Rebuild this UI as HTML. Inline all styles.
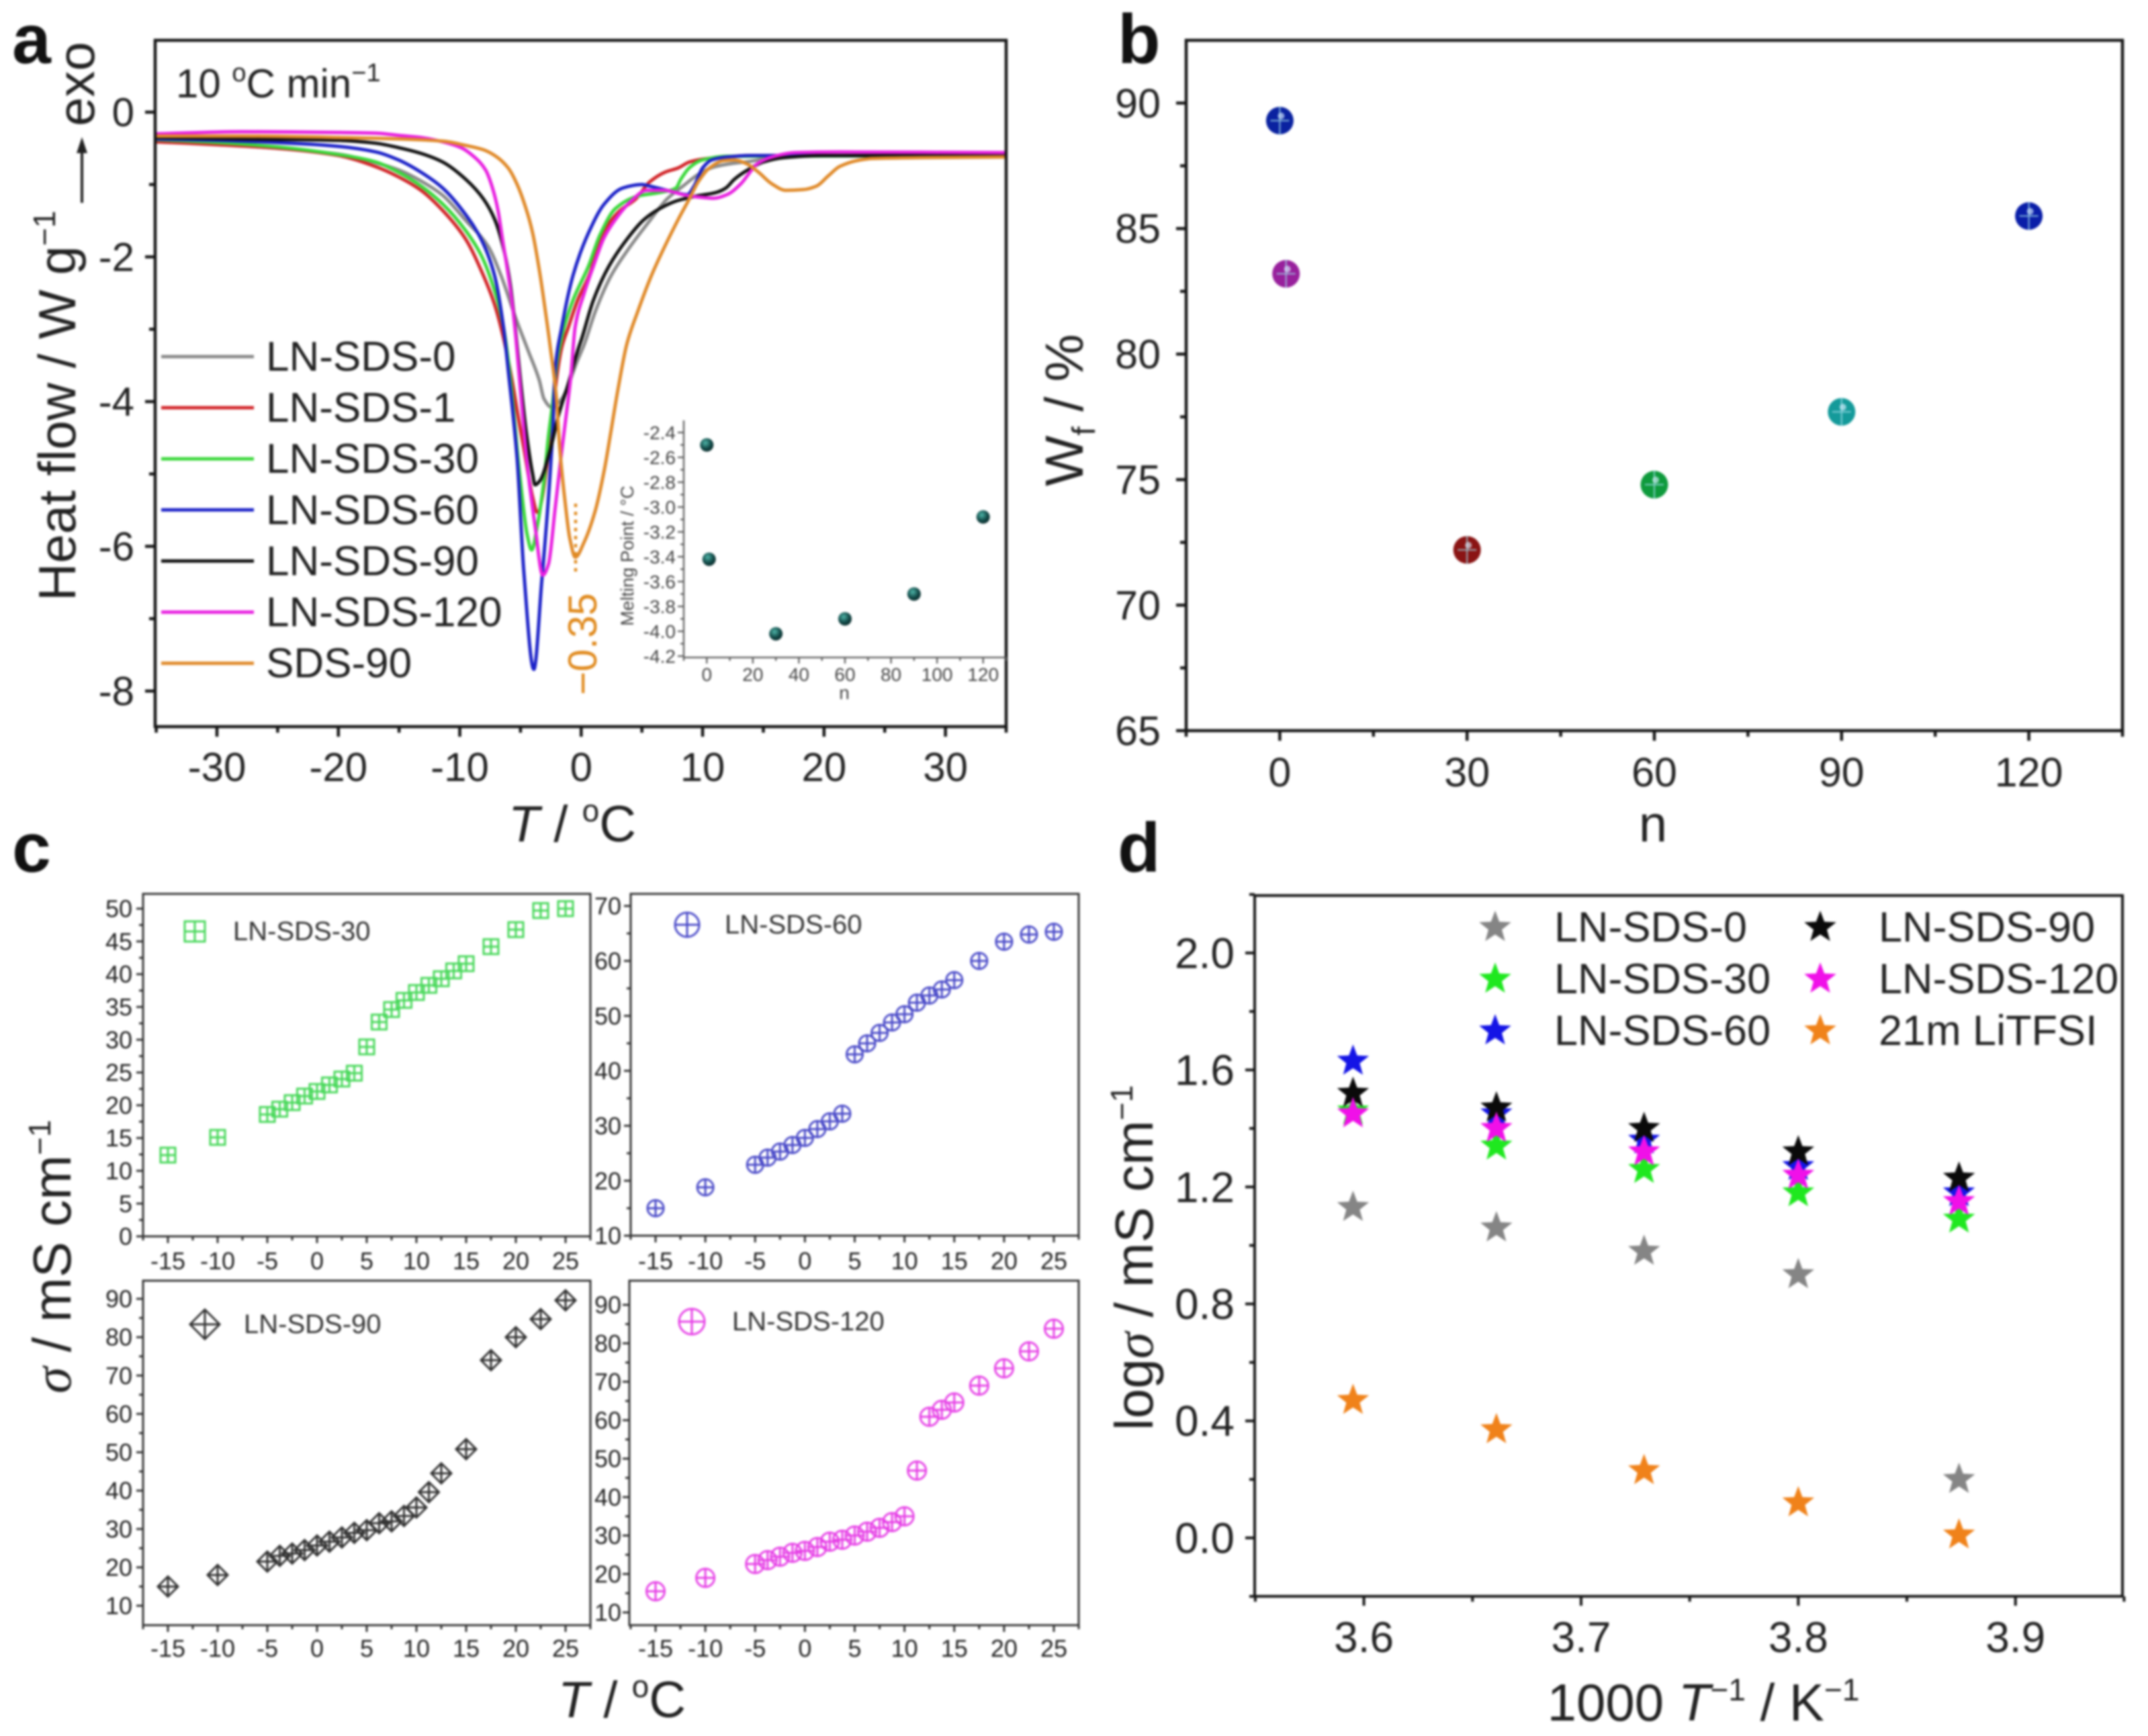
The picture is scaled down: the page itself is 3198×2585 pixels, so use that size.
<!DOCTYPE html>
<html lang="en">
<head>
<meta charset="utf-8">
<title>LN-SDS thermal and conductivity figure</title>
<style>
html,body{margin:0;padding:0;background:#fff;}
#figure{display:block;width:3198px;height:2585px;filter:blur(1.5px);font-family:"Liberation Sans",sans-serif;}
text{font-family:"Liberation Sans",sans-serif;fill:#222;}
</style>
</head>
<body>
<svg id="figure" xmlns="http://www.w3.org/2000/svg" width="3198" height="2585" viewBox="0 0 3198 2585">
<defs>
<radialGradient id="sphere-inset" cx="0.4" cy="0.35" r="0.7"><stop offset="0" stop-color="#4fb5a8"/><stop offset="0.6" stop-color="#134a48"/><stop offset="1" stop-color="#0c2b2b"/></radialGradient>
</defs>
<rect x="0" y="0" width="3198" height="2585" fill="#fff"/>

<text x="18" y="94" font-size="104" font-weight="bold" style="fill:#111">a</text>
<text x="1664" y="94" font-size="104" font-weight="bold" style="fill:#111">b</text>
<text x="18" y="1298" font-size="104" font-weight="bold" style="fill:#111">c</text>
<text x="1664" y="1298" font-size="104" font-weight="bold" style="fill:#111">d</text>

<g id="panel-a"></g>
<g id="panel-a-inset"></g>
<g id="panel-b"></g>
<g id="panel-c1"></g>
<g id="panel-c2"></g>
<g id="panel-c3"></g>
<g id="panel-c4"></g>
<g id="panel-d"></g>

<text x="262" y="145" font-size="60">10 <tspan font-size="38" dy="-24">o</tspan><tspan dy="24">C min</tspan><tspan font-size="38" dy="-24">−1</tspan></text>
<text transform="translate(112,895) rotate(-90)" font-size="78">Heat flow / W g<tspan font-size="46" dy="-30">−1</tspan></text>
<text transform="translate(140,188) rotate(-90)" font-size="78">exo</text>
<line x1="122" y1="302" x2="122" y2="222" stroke="#222" stroke-width="4"/>
<polygon points="122,204 114,228 130,228" fill="#222"/>
<text x="852" y="1253" font-size="76" text-anchor="middle"><tspan font-style="italic">T</tspan> / <tspan font-size="46" dy="-30">o</tspan><tspan dy="30">C</tspan></text>
<text transform="translate(888,1035) rotate(-90)" font-size="60" style="fill:#e08a1e">−0.35</text>
<line x1="857" y1="750" x2="857" y2="853" stroke="#e08a1e" stroke-width="4.5" stroke-dasharray="5 7"/>

<text transform="translate(1612,724) rotate(-90)" font-size="80">W<tspan font-size="48" dy="18">f</tspan><tspan dy="-18"> / %</tspan></text>
<text x="2461" y="1253" font-size="76" text-anchor="middle">n</text>

<text transform="translate(105,2075) rotate(-90)" font-size="80"><tspan font-style="italic" font-family="Liberation Serif">σ</tspan> / mS cm<tspan font-size="46" dy="-30">−1</tspan></text>
<text x="926" y="2557" font-size="76" text-anchor="middle"><tspan font-style="italic">T</tspan> / <tspan font-size="46" dy="-30">o</tspan><tspan dy="30">C</tspan></text>

<text transform="translate(1716,2130) rotate(-90)" font-size="80">log<tspan font-style="italic" font-family="Liberation Serif">σ</tspan> / mS cm<tspan font-size="46" dy="-30">−1</tspan></text>
<text x="2536" y="2562" font-size="78" text-anchor="middle">1000 <tspan font-style="italic">T</tspan><tspan font-size="46" dy="-30">−1</tspan><tspan dy="30"> / K</tspan><tspan font-size="46" dy="-30">−1</tspan></text>
</svg>

<script>
// ---------- Panel a: heat-flow curves ----------
const aGrayT = [-35,-30,-25,-20,-16.9,-15,-13.2,-11.4,-9.5,-7.68,-6.6,-5.47,-4.36,-3.44,-3.07,-2.42,-1.6,-0.3,0.25,1.17,2.46,3.94,5.6,7.07,8.4,9.65,10.9,12.4,13.9,15,20,35];
const aGrayV = [-0.41,-0.44,-0.5,-0.58,-0.7,-0.8,-0.95,-1.15,-1.5,-1.85,-2.26,-2.81,-3.3,-3.71,-3.96,-4.08,-3.96,-3.43,-3.21,-2.75,-2.26,-1.88,-1.51,-1.2,-1.02,-0.86,-0.76,-0.71,-0.68,-0.65,-0.6,-0.6];
const aRedT = [-35,-30,-25,-20,-16.9,-15.06,-13.2,-11.4,-9.5,-8.05,-7.13,-6.4,-5.7,-5.1,-4.73,-4,-3.62,-2.33,-2.05,-1.6,-1.05,-0.3,0.8,1.17,2.28,3.2,4.5,5.6,6.9,8,8.9,10,11.1,14,35];
const aRedV = [-0.41,-0.45,-0.5,-0.6,-0.755,-0.894,-1.08,-1.36,-1.76,-2.26,-2.66,-3.12,-3.7,-4.3,-4.64,-5.32,-5.53,-4.17,-3.71,-3.25,-2.97,-2.6,-2.19,-1.95,-1.54,-1.36,-1.2,-0.97,-0.83,-0.77,-0.69,-0.65,-0.63,-0.6,-0.6];
const aGreenT = [-35,-30,-25,-20.2,-16.9,-15.06,-13.2,-11.4,-9.5,-8.23,-7.13,-6.4,-6,-5,-4.45,-4.08,-3.62,-3.07,-2.7,-2.42,-1.97,-1.4,-0.68,0.6,1.54,2.83,4.67,6.5,7.8,8.2,8.9,10,12,35];
const aGreenV = [-0.38,-0.42,-0.48,-0.58,-0.69,-0.83,-1.02,-1.27,-1.64,-1.98,-2.47,-2.97,-3.43,-5.1,-5.84,-6.05,-5.72,-5.1,-4.48,-4.11,-3.43,-2.97,-2.6,-2.13,-1.7,-1.33,-1.16,-1.11,-1.05,-0.93,-0.77,-0.66,-0.61,-0.6];
const aBlueT = [-35,-30,-25,-20.2,-16.9,-15.06,-13.2,-11.4,-9.5,-8.23,-7.13,-6.4,-6,-5.28,-4.73,-3.9,-3.25,-2.6,-2.33,-2.15,-1.6,-0.68,0.6,1.9,3.4,5,5.6,7.07,8.73,9.3,10,10.76,12,13.9,35];
const aBlueV = [-0.37,-0.39,-0.42,-0.47,-0.55,-0.66,-0.83,-1.05,-1.42,-1.76,-2.26,-2.97,-3.58,-4.79,-6.34,-7.7,-6.49,-5.1,-4.33,-3.58,-2.97,-2.26,-1.67,-1.27,-1.05,-1,-1.02,-1.08,-1.14,-1.02,-0.77,-0.66,-0.62,-0.6,-0.6];
const aBlackT = [-35,-28,-20,-16.9,-15.06,-13.2,-11.4,-9.5,-8.05,-7.13,-6.4,-5.84,-5.38,-5,-4.54,-4,-3.8,-3.43,-2.51,-1.87,-1.04,-0.3,0.06,1,2.28,3.75,5.2,6.5,7.8,9.46,11.1,11.9,12.6,13.7,15,16.65,20,35];
const aBlackV = [-0.35,-0.37,-0.39,-0.43,-0.49,-0.57,-0.69,-0.93,-1.2,-1.48,-1.88,-2.38,-3.06,-3.7,-4.4,-5,-5.15,-5.1,-4.64,-4.19,-3.74,-3.3,-3.12,-2.6,-2.13,-1.76,-1.48,-1.33,-1.23,-1.16,-1.11,-1.05,-0.93,-0.8,-0.69,-0.63,-0.6,-0.6];
const aMagentaT = [-35,-28,-20,-16.9,-15.06,-13.2,-11.4,-9.9,-8.8,-7.87,-7.3,-6.85,-6.48,-6,-5.65,-5.38,-5,-4.54,-3.8,-3.16,-2.7,-2.14,-1.68,-1.22,-0.85,-0.5,0.25,1,1.9,2.83,4.1,5.4,6.9,8.36,9.46,10.9,12,13.15,13.9,14.45,15.7,17.6,21.3,35];
const aMagentaV = [-0.3,-0.27,-0.28,-0.29,-0.32,-0.35,-0.41,-0.49,-0.62,-0.8,-1.05,-1.36,-1.76,-2.26,-2.69,-3.12,-3.85,-4.72,-5.72,-6.4,-6.25,-5.47,-4.79,-4.17,-3.65,-2.97,-2.5,-2.13,-1.73,-1.48,-1.23,-1.08,-1.08,-1.14,-1.17,-1.19,-1.14,-0.99,-0.83,-0.72,-0.62,-0.56,-0.55,-0.56];
const aOrangeT = [-35,-28,-20,-11.4,-9.5,-8.05,-6.94,-6.02,-5.3,-4.55,-4,-3.44,-2.9,-2.52,-2.05,-1.77,-1.31,-0.95,-0.48,0.25,1.17,1.9,2.47,3,3.75,4.67,5.78,6.9,8,8.9,9.65,10.57,11.7,12.6,13.7,14.6,15.7,16.85,18.3,19.4,20.35,21.3,23,24,35];
const aOrangeV = [-0.33,-0.33,-0.35,-0.4,-0.46,-0.52,-0.62,-0.77,-0.99,-1.33,-1.67,-2.19,-2.81,-3.28,-3.93,-4.64,-5.41,-5.88,-6.15,-5.94,-5.5,-4.95,-4.39,-3.86,-3.21,-2.75,-2.26,-1.85,-1.48,-1.2,-0.96,-0.77,-0.67,-0.66,-0.72,-0.83,-0.99,-1.08,-1.07,-1.02,-0.88,-0.75,-0.66,-0.64,-0.62];
const aLegendLabels = ['LN-SDS-0','LN-SDS-1','LN-SDS-30','LN-SDS-60','LN-SDS-90','LN-SDS-120','SDS-90'];
const aXTicks = [-30,-20,-10,0,10,20,30];
const aYTicks = [0,-2,-4,-6,-8];

// ---------- Panel a inset: melting point ----------
const insetN = [0,1,30,60,90,120];
const insetMelting = [-2.5,-3.42,-4.02,-3.9,-3.7,-3.08];
const insetXTicks = [0,20,40,60,80,100,120];
const insetYTicks = [-2.4,-2.6,-2.8,-3.0,-3.2,-3.4,-3.6,-3.8,-4.0,-4.2];

// ---------- Panel b: water fraction ----------
const bN = [0,1,30,60,90,120];
const bWf = [89.3,83.2,72.2,74.8,77.7,85.5];
const bXTicks = [0,30,60,90,120];
const bYTicks = [65,70,75,80,85,90];

// ---------- Panel c: conductivity versus temperature ----------
const cTemps = [-15,-10,-5,-3.75,-2.5,-1.25,0,1.25,2.5,3.75,5,6.25,7.5,8.75,10,11.25,12.5,13.75,15,17.5,20,22.5,25];
const cSds30 = [12.4,15.1,18.6,19.4,20.4,21.4,22.1,23.1,24,24.9,28.9,32.7,34.6,36,37.2,38.3,39.3,40.5,41.6,44.2,46.8,49.7,50];
const cSds60 = [15,18.8,22.9,24.2,25.3,26.5,27.8,29.4,30.8,32.2,43,45,46.9,48.8,50.3,52.4,53.7,54.8,56.5,60,63.5,64.8,65.3];
const cSds90 = [15,18,21.5,23,23.6,24.5,25.7,26.7,27.8,29,29.7,31.5,32,33.4,35.6,39.6,44.5,null,50.8,74,80,84.7,89.6];
const cSds120 = [15.5,19,22.6,23.6,24.5,25.5,26,27,28.4,28.9,30,31,32,33.5,35,46.9,60.9,62.7,64.6,69,73.5,77.9,83.8];
const cXTicks = [-15,-10,-5,0,5,10,15,20,25];
const c30YTicks = [0,5,10,15,20,25,30,35,40,45,50];
const c60YTicks = [10,20,30,40,50,60,70];
const c90YTicks = [10,20,30,40,50,60,70,80,90];
const c120YTicks = [10,20,30,40,50,60,70,80,90];

// ---------- Panel d: Arrhenius plot ----------
const dX = [3.595,3.661,3.729,3.80,3.874];
const dSds0 = [1.13,1.06,0.98,0.90,0.20];
const dSds30 = [1.46,1.34,1.26,1.18,1.09];
const dSds60 = [1.63,1.45,1.36,1.27,1.18];
const dSds90 = [1.52,1.47,1.40,1.32,1.23];
const dSds120 = [1.45,1.40,1.32,1.24,1.15];
const dLiTFSI = [0.47,0.37,0.23,0.12,0.01];
const dXTicks = [3.6,3.7,3.8,3.9];
const dYTicks = [0.0,0.4,0.8,1.2,1.6,2.0];

const NS = 'http://www.w3.org/2000/svg';
function node(parent, tag, attrs, txt) {
  const n = document.createElementNS(NS, tag);
  for (const k in attrs) n.setAttribute(k, attrs[k]);
  if (txt !== undefined) n.textContent = txt;
  parent.appendChild(n);
  return n;
}
function linear(d0, d1, r0, r1) {
  return v => r0 + (v - d0) * (r1 - r0) / (d1 - d0);
}
function steps(from, to, step) {
  const out = [];
  const count = Math.round((to - from) / step);
  for (let i = 0; i <= count; i++) out.push(from + i * step);
  return out;
}

function drawAxes(g, o) {
  const xs = o.x, ys = o.y, b = o.box;
  if (o.frame !== false) {
    const frame = node(g, 'rect', {x:b.l, y:b.t, width:b.r-b.l, height:b.b-b.t, fill:'none', stroke:o.color, 'stroke-width':o.sw});
    
    
  } else {
    const ax = node(g, 'path', {d:`M${b.l} ${b.t}V${b.b}H${b.r}`, fill:'none', stroke:o.color, 'stroke-width':o.sw});
    
    
  }
  o.xMinor.forEach(v => {
    const t = node(g, 'line', {x1:xs(v), x2:xs(v), y1:b.b, y2:b.b+o.minor, stroke:o.color, 'stroke-width':o.sw});
    
    
  });
  o.yMinor.forEach(v => {
    const t = node(g, 'line', {x1:b.l-o.minor, x2:b.l, y1:ys(v), y2:ys(v), stroke:o.color, 'stroke-width':o.sw});
    
    
  });
  o.xTicks.forEach(v => {
    const t = node(g, 'line', {x1:xs(v), x2:xs(v), y1:b.b, y2:b.b+o.major, stroke:o.color, 'stroke-width':o.sw});
    
    
    const l = node(g, 'text', {x:xs(v), y:o.xLabelY, 'font-size':o.fs, 'text-anchor':'middle', style:o.textStyle||''}, o.fx ? o.fx(v) : String(v));
    
    
  });
  o.yTicks.forEach(v => {
    const t = node(g, 'line', {x1:b.l-o.major, x2:b.l, y1:ys(v), y2:ys(v), stroke:o.color, 'stroke-width':o.sw});
    
    
    const l = node(g, 'text', {x:o.yLabelX, y:ys(v)+o.fs*0.35, 'font-size':o.fs, 'text-anchor':'end', style:o.textStyle||''}, o.fy ? o.fy(v) : String(v));
    
    
  });
}

// Monotone cubic path through the projected data points.
function monotonePath(px, py) {
  const n = px.length, m = [], d = [];
  for (let i = 0; i < n-1; i++) d.push((py[i+1]-py[i])/(px[i+1]-px[i]));
  m[0] = d[0]; m[n-1] = d[n-2];
  for (let i = 1; i < n-1; i++) {
    if (d[i-1]*d[i] <= 0) { m[i] = 0; continue; }
    const h0 = px[i]-px[i-1], h1 = px[i+1]-px[i];
    m[i] = 3*(h0+h1)/((2*h1+h0)/d[i-1] + (h1+2*h0)/d[i]);
  }
  let s = `M${px[0].toFixed(1)} ${py[0].toFixed(1)}`;
  for (let i = 0; i < n-1; i++) {
    const h = (px[i+1]-px[i])/3;
    s += `C${(px[i]+h).toFixed(1)} ${(py[i]+m[i]*h).toFixed(1)} ${(px[i+1]-h).toFixed(1)} ${(py[i+1]-m[i+1]*h).toFixed(1)} ${px[i+1].toFixed(1)} ${py[i+1].toFixed(1)}`;
  }
  return s;
}

// ---------- draw panel a ----------
(function () {
  const g = document.getElementById('panel-a');
  const box = {l:231, r:1498, t:60, b:1082};
  const x = linear(-35, 35, 232.6, 1498);
  const y = linear(0, -8, 167, 1029);
  const colors = ['#8a8a8a','#d2262a','#3ad83a','#1c22c8','#111111','#e81fe0','#e08a2a'];
  const temps = [aGrayT, aRedT, aGreenT, aBlueT, aBlackT, aMagentaT, aOrangeT];
  const vals = [aGrayV, aRedV, aGreenV, aBlueV, aBlackV, aMagentaV, aOrangeV];
  temps.forEach((T, i) => {
    const p = node(g, 'path', {d:monotonePath(T.map(x), vals[i].map(y)), fill:'none', stroke:colors[i], 'stroke-width':5, 'stroke-linejoin':'round'});
    
    
    const ly = 531 + i * 76.1;
    const ll = node(g, 'line', {x1:240, x2:378, y1:ly, y2:ly, stroke:colors[i], 'stroke-width':5});
    
    
    const lt = node(g, 'text', {x:396, y:ly+21, 'font-size':62}, aLegendLabels[i]);
    
    
  });
  drawAxes(g, {x, y, box, color:'#151515', sw:4.5, major:15, minor:9, fs:60, xLabelY:1163, yLabelX:200,
    xTicks:aXTicks, yTicks:aYTicks, xMinor:steps(-35,35,10), yMinor:steps(-7,-1,2)});
})();

// ---------- draw inset ----------
(function () {
  const g = document.getElementById('panel-a-inset');
  const box = {l:1018, r:1498, t:626, b:979};
  const x = linear(-10, 130, 1018, 1498);
  const y = linear(-2.4, -4.2, 644, 977);
  drawAxes(g, {x, y, box, frame:false, color:'#555', sw:2.2, major:9, minor:5, fs:28, xLabelY:1014, yLabelX:1006, textStyle:'fill:#444',
    xTicks:insetXTicks, yTicks:insetYTicks, xMinor:steps(-10,130,20), yMinor:steps(-4.1,-2.5,0.2),
    fy:v => v.toFixed(1)});
  insetN.forEach((n, i) => {
    const c = node(g, 'circle', {cx:x(n), cy:y(insetMelting[i]), r:10, fill:'url(#sphere-inset)'});
    
    
  });
  const yt = node(g, 'text', {transform:'translate(943,932) rotate(-90)', 'font-size':27, style:'fill:#444'}, 'Melting Point / °C');
  
  
  const xt = node(g, 'text', {x:1257, y:1041, 'font-size':28, 'text-anchor':'middle', style:'fill:#444'}, 'n');
  
  
})();

// ---------- draw panel b ----------
(function () {
  const g = document.getElementById('panel-b');
  const box = {l:1766, r:3160, t:60, b:1088};
  const x = linear(-15, 135, 1766, 3160);
  const y = linear(65, 92.5, 1088, 60);
  const colors = ['#0a22a0','#98209c','#8a1414','#0e9a3c','#149a9a','#0a1ea8'];
  drawAxes(g, {x, y, box, color:'#151515', sw:4.5, major:15, minor:9, fs:61, xLabelY:1171, yLabelX:1728,
    xTicks:bXTicks, yTicks:bYTicks, xMinor:steps(-15,135,30), yMinor:steps(67.5,87.5,5)});
  bN.forEach((n, i) => {
    const cx = x(n), cy = y(bWf[i]);
    const c = node(g, 'circle', {cx, cy, r:20.5, fill:colors[i]});
    
    
    const e = node(g, 'path', {d:`M${cx} ${cy-21}V${cy+21}M${cx-14} ${cy}H${cx+14}`, stroke:'#9fdce8', 'stroke-width':2, fill:'none', opacity:0.8});
    
    
    const h = node(g, 'circle', {cx:cx+2, cy:cy-7, r:5, fill:'#d8f0ff', opacity:0.65});
    
    
  });
})();

// ---------- draw panel c ----------
function markerShape(g, kind, cx, cy, size, color, sw) {
  let d = '';
  if (kind === 'square') d = `M${cx-size} ${cy-size}H${cx+size}V${cy+size}H${cx-size}Z`;
  if (kind === 'diamond') d = `M${cx} ${cy-size}L${cx+size} ${cy}L${cx} ${cy+size}L${cx-size} ${cy}Z`;
  if (kind === 'circle') d = `M${cx-size} ${cy}A${size} ${size} 0 1 1 ${cx+size} ${cy}A${size} ${size} 0 1 1 ${cx-size} ${cy}Z`;
  d += `M${cx} ${cy-size}V${cy+size}M${cx-size} ${cy}H${cx+size}`;
  return node(g, 'path', {d, fill:'none', stroke:color, 'stroke-width':sw});
}
function drawConductivity(id, vals, yTicks, o) {
  const g = document.getElementById(id);
  const x = linear(-15, 25, o.x0, o.x1);
  const y = linear(o.dom[0], o.dom[1], o.rng[0], o.rng[1]);
  drawAxes(g, {x, y, box:o.box, color:'#333', sw:3, major:10, minor:6, fs:36, xLabelY:o.xLabelY, yLabelX:o.box.l-o.labelGap,
    xTicks:cXTicks, yTicks, xMinor:steps(-17.5,27.5,5), yMinor:yTicks.slice(1).map((v,i)=>(v+yTicks[i])/2)});
  cTemps.forEach((t, i) => {
    if (vals[i] === null) return;
    const m = markerShape(g, o.kind, x(t), y(vals[i]), o.size, o.color, 3);
    
    
  });
  const sym = markerShape(g, o.kind, o.legX, o.legY, o.legSize, o.color, 3);
  
  
  const lab = node(g, 'text', {x:o.legTextX, y:o.legY+13, 'font-size':40, style:'fill:#333'}, o.label);
  
  
}
drawConductivity('panel-c1', cSds30, c30YTicks, {x0:250, x1:842, dom:[0,50], rng:[1841,1353], box:{l:213,r:879,t:1331,b:1841}, xLabelY:1890, labelGap:16,
  kind:'square', size:11, color:'#48d85a', legX:290, legY:1387, legSize:15, legTextX:347, label:'LN-SDS-30'});
drawConductivity('panel-c2', cSds60, c60YTicks, {x0:976, x1:1569, dom:[10,70], rng:[1840,1349], box:{l:939,r:1606,t:1331,b:1840}, xLabelY:1890, labelGap:14,
  kind:'circle', size:12, color:'#4a4ac8', legX:1023, legY:1377, legSize:18, legTextX:1079, label:'LN-SDS-60'});
drawConductivity('panel-c3', cSds90, c90YTicks, {x0:250, x1:842, dom:[10,90], rng:[2391,1934], box:{l:213,r:879,t:1907,b:2420}, xLabelY:2467, labelGap:16,
  kind:'diamond', size:15, color:'#333333', legX:305, legY:1972, legSize:22, legTextX:363, label:'LN-SDS-90'});
drawConductivity('panel-c4', cSds120, c120YTicks, {x0:976, x1:1569, dom:[10,90], rng:[2401,1943], box:{l:937,r:1606,t:1907,b:2420}, xLabelY:2467, labelGap:12,
  kind:'circle', size:13.5, color:'#e63fe6', legX:1030, legY:1968, legSize:19, legTextX:1090, label:'LN-SDS-120'});

// ---------- draw panel d ----------
function starPoints(cx, cy, R) {
  const pts = [];
  for (let i = 0; i < 10; i++) {
    const r = i % 2 ? R * 0.42 : R;
    const a = -Math.PI/2 + i * Math.PI/5;
    pts.push((cx + r*Math.cos(a)).toFixed(1) + ',' + (cy + r*Math.sin(a)).toFixed(1));
  }
  return pts.join(' ');
}
(function () {
  const g = document.getElementById('panel-d');
  const box = {l:1868, r:3160, t:1333.5, b:2377};
  const x = linear(3.6, 3.9, 2030.6, 3000.7);
  const y = linear(0, 2, 2290, 1419);
  drawAxes(g, {x, y, box, color:'#151515', sw:4, major:14, minor:8, fs:64, xLabelY:2460, yLabelX:1838,
    xTicks:dXTicks, yTicks:dYTicks, xMinor:steps(3.55,3.95,0.1), yMinor:steps(-0.2,2.2,0.4),
    fx:v => v.toFixed(1), fy:v => v.toFixed(1)});
  const series = [dSds0, dSds30, dSds60, dSds90, dSds120, dLiTFSI];
  const colors = ['#858585','#1fe81f','#1414e6','#0a0a0a','#f010e8','#f0821a'];
  series.forEach((vals, s) => {
    dX.forEach((v, i) => {
      const star = node(g, 'polygon', {points:starPoints(x(v), y(vals[i]), 25), fill:colors[s]});
      
      
    });
  });
  const legendLabels = ['LN-SDS-0','LN-SDS-30','LN-SDS-60','LN-SDS-90','LN-SDS-120','21m LiTFSI'];
  legendLabels.forEach((t, i) => {
    const col = i < 3 ? 0 : 1;
    const row = i % 3;
    const sx = col ? 2710 : 2226;
    const tx = col ? 2797 : 2314;
    const sy = 1381 + row * 77;
    const s = node(g, 'polygon', {points:starPoints(sx, sy, 25), fill:colors[i]});
    
    
    const l = node(g, 'text', {x:tx, y:sy+21, 'font-size':63}, t);
    
    
  });
})();
</script>
</body>
</html>
